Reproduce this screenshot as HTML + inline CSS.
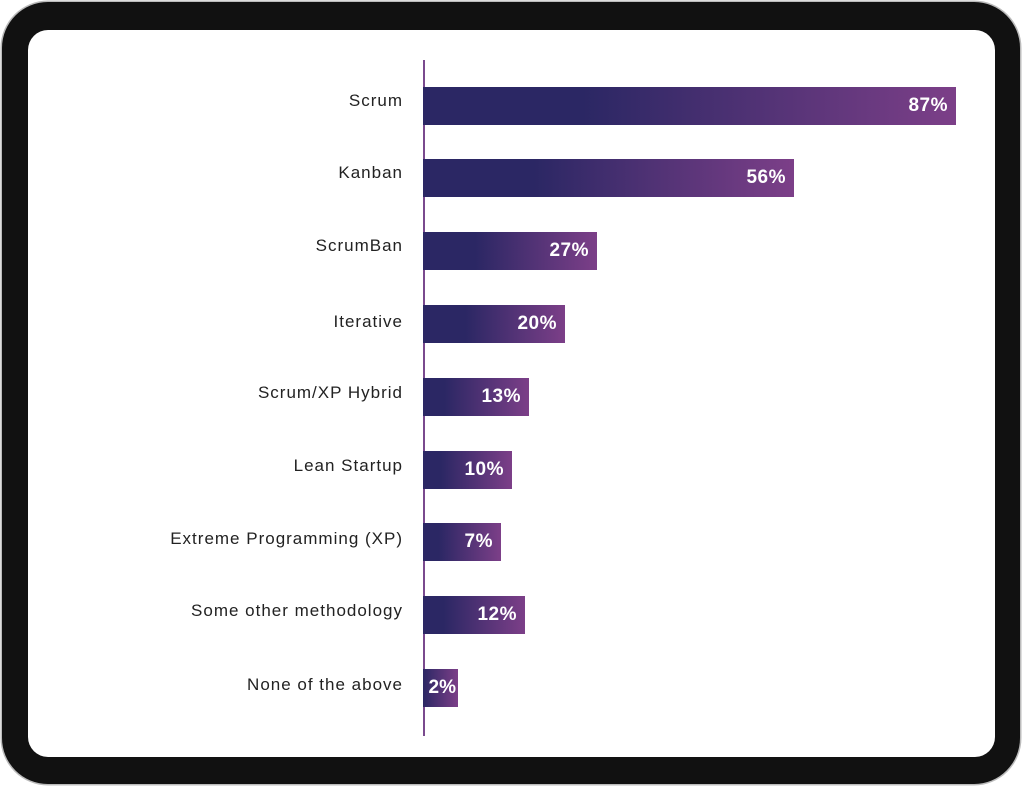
<!DOCTYPE html>
<html><head><style>
body{margin:0;width:1024px;height:788px;background:#fff;position:relative;overflow:hidden;font-family:"Liberation Sans",sans-serif}
.dev{position:absolute;left:2px;top:2px;width:1018px;height:782px;background:#111;border-radius:46px;box-shadow:0 0 0 1.5px #bbb}
.scr{position:absolute;left:28px;top:30px;width:967px;height:727px;background:#fff;border-radius:20px}
.axis{position:absolute;left:423px;top:60px;width:2px;height:676px;background:#7a4a8e}
.bar{position:absolute;left:423px;height:38px;color:#fff;font-weight:bold;font-size:19px;line-height:38px;text-align:right;box-sizing:border-box;padding-right:8px;letter-spacing:0.5px}
.lab{position:absolute;right:621px;font-size:17px;color:#222;white-space:nowrap;letter-spacing:1px}
</style></head><body>
<div class="dev"></div><div class="scr"></div>
<div class="axis"></div>
<div class="lab" style="top:91px">Scrum</div>
<div class="lab" style="top:163px">Kanban</div>
<div class="lab" style="top:236px">ScrumBan</div>
<div class="lab" style="top:312px">Iterative</div>
<div class="lab" style="top:383px">Scrum/XP Hybrid</div>
<div class="lab" style="top:456px">Lean Startup</div>
<div class="lab" style="top:529px">Extreme Programming (XP)</div>
<div class="lab" style="top:601px">Some other methodology</div>
<div class="lab" style="top:675px">None of the above</div>
<div class="bar" style="top:87px;width:533px;background:linear-gradient(90deg,#2b2764 30%,#7c3f88)">87%</div>
<div class="bar" style="top:159px;width:371px;background:linear-gradient(90deg,#2b2764 30%,#7c3f88)">56%</div>
<div class="bar" style="top:232px;width:174px;background:linear-gradient(90deg,#2b2764 30%,#7c3f88)">27%</div>
<div class="bar" style="top:305px;width:142px;background:linear-gradient(90deg,#2b2764 30%,#7c3f88)">20%</div>
<div class="bar" style="top:378px;width:106px;background:linear-gradient(90deg,#2b2764 20%,#7c3f88)">13%</div>
<div class="bar" style="top:451px;width:89px;background:linear-gradient(90deg,#2b2764 20%,#7c3f88)">10%</div>
<div class="bar" style="top:523px;width:78px;background:linear-gradient(90deg,#2b2764 20%,#7c3f88)">7%</div>
<div class="bar" style="top:596px;width:102px;background:linear-gradient(90deg,#2b2764 20%,#7c3f88)">12%</div>
<div class="bar" style="top:669px;width:35px;padding-right:2px;letter-spacing:0;background:linear-gradient(90deg,#2b2764,#7c3f88)">2%</div>
</body></html>
